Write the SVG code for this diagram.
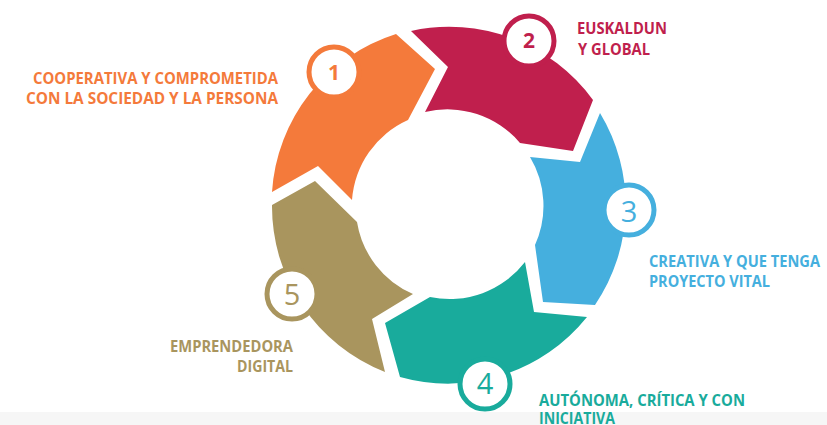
<svg xmlns="http://www.w3.org/2000/svg" width="827" height="425" viewBox="0 0 827 425">
<style>
.lbl{font-family:"Open Sans","Liberation Sans",sans-serif;font-weight:700;font-size:16px}
.numb{font-family:"Open Sans","Liberation Sans",sans-serif;font-weight:700;font-size:21px;text-anchor:middle}
.numl{font-family:"Open Sans","Liberation Sans",sans-serif;font-weight:400;font-size:29px;text-anchor:middle}
.ring{fill:#ffffff;stroke-width:5}
</style>
<rect x="0" y="0" width="827" height="425" fill="#ffffff"/>
<rect x="0" y="412" width="827" height="13" fill="#f6f6f6"/>
<g id="connectors"></g>
<g id="node-1">
<path d="M272,192 A178,178 0 0 1 396,34 L435,69 L408,120 A95,95 0 0 0 352,200 L318,166 Z" fill="#F47A3B"/>
<circle class="ring" cx="334" cy="72" r="25" stroke="#F47A3B"/>
<text class="numb" x="334" y="80" fill="#F47A3B">1</text>
<text class="lbl" x="278" y="84" text-anchor="end" fill="#F47A3B" textLength="245" lengthAdjust="spacingAndGlyphs">COOPERATIVA Y COMPROMETIDA</text>
<text class="lbl" x="278" y="104" text-anchor="end" fill="#F47A3B" textLength="252" lengthAdjust="spacingAndGlyphs">CON LA SOCIEDAD Y LA PERSONA</text>
</g>
<g id="node-2">
<path d="M411,31 A178,178 0 0 1 593,100 L573,151 L520,143 A95,95 0 0 0 425,112 L448,67 Z" fill="#C01F4D"/>
<circle class="ring" cx="529" cy="41" r="25" stroke="#C01F4D"/>
<text class="numb" x="529" y="48" fill="#C01F4D">2</text>
<text class="lbl" x="577" y="34" fill="#C01F4D" textLength="90" lengthAdjust="spacingAndGlyphs">EUSKALDUN</text>
<text class="lbl" x="578" y="55" fill="#C01F4D" textLength="72" lengthAdjust="spacingAndGlyphs">Y GLOBAL</text>
</g>
<g id="node-3">
<path d="M600,113 A178,178 0 0 1 595,305 L543,302 L535,245 A95,95 0 0 0 530,157 L580,162 Z" fill="#45AFDE"/>
<circle class="ring" cx="629" cy="210" r="25" stroke="#45AFDE"/>
<text class="numl" x="629" y="222" fill="#45AFDE">3</text>
<text class="lbl" x="649" y="267" fill="#45AFDE" textLength="171" lengthAdjust="spacingAndGlyphs">CREATIVA Y QUE TENGA</text>
<text class="lbl" x="649" y="287" fill="#45AFDE" textLength="121" lengthAdjust="spacingAndGlyphs">PROYECTO VITAL</text>
</g>
<g id="node-4">
<path d="M587,317 A178,178 0 0 1 400,377 L385,323 L430,297 A95,95 0 0 0 525,262 L534,312 Z" fill="#19AB9C"/>
<circle class="ring" cx="485" cy="384" r="25" stroke="#19AB9C"/>
<text class="numl" x="485" y="394" fill="#19AB9C">4</text>
<text class="lbl" x="539" y="406" fill="#19AB9C" textLength="206" lengthAdjust="spacingAndGlyphs">AUTÓNOMA, CRÍTICA Y CON</text>
<text class="lbl" x="539" y="424" fill="#19AB9C" textLength="76" lengthAdjust="spacingAndGlyphs">INICIATIVA</text>
</g>
<g id="node-5">
<path d="M385,372 A178,178 0 0 1 272,205 L315,181 L357,222 A95,95 0 0 0 413,294 L372,319 Z" fill="#A9955E"/>
<circle class="ring" cx="292" cy="294" r="25" stroke="#A9955E"/>
<text class="numl" x="292" y="305" fill="#A9955E">5</text>
<text class="lbl" x="293" y="352" text-anchor="end" fill="#A9955E" textLength="123" lengthAdjust="spacingAndGlyphs">EMPRENDEDORA</text>
<text class="lbl" x="293" y="372" text-anchor="end" fill="#A9955E" textLength="56" lengthAdjust="spacingAndGlyphs">DIGITAL</text>
</g>
</svg>
